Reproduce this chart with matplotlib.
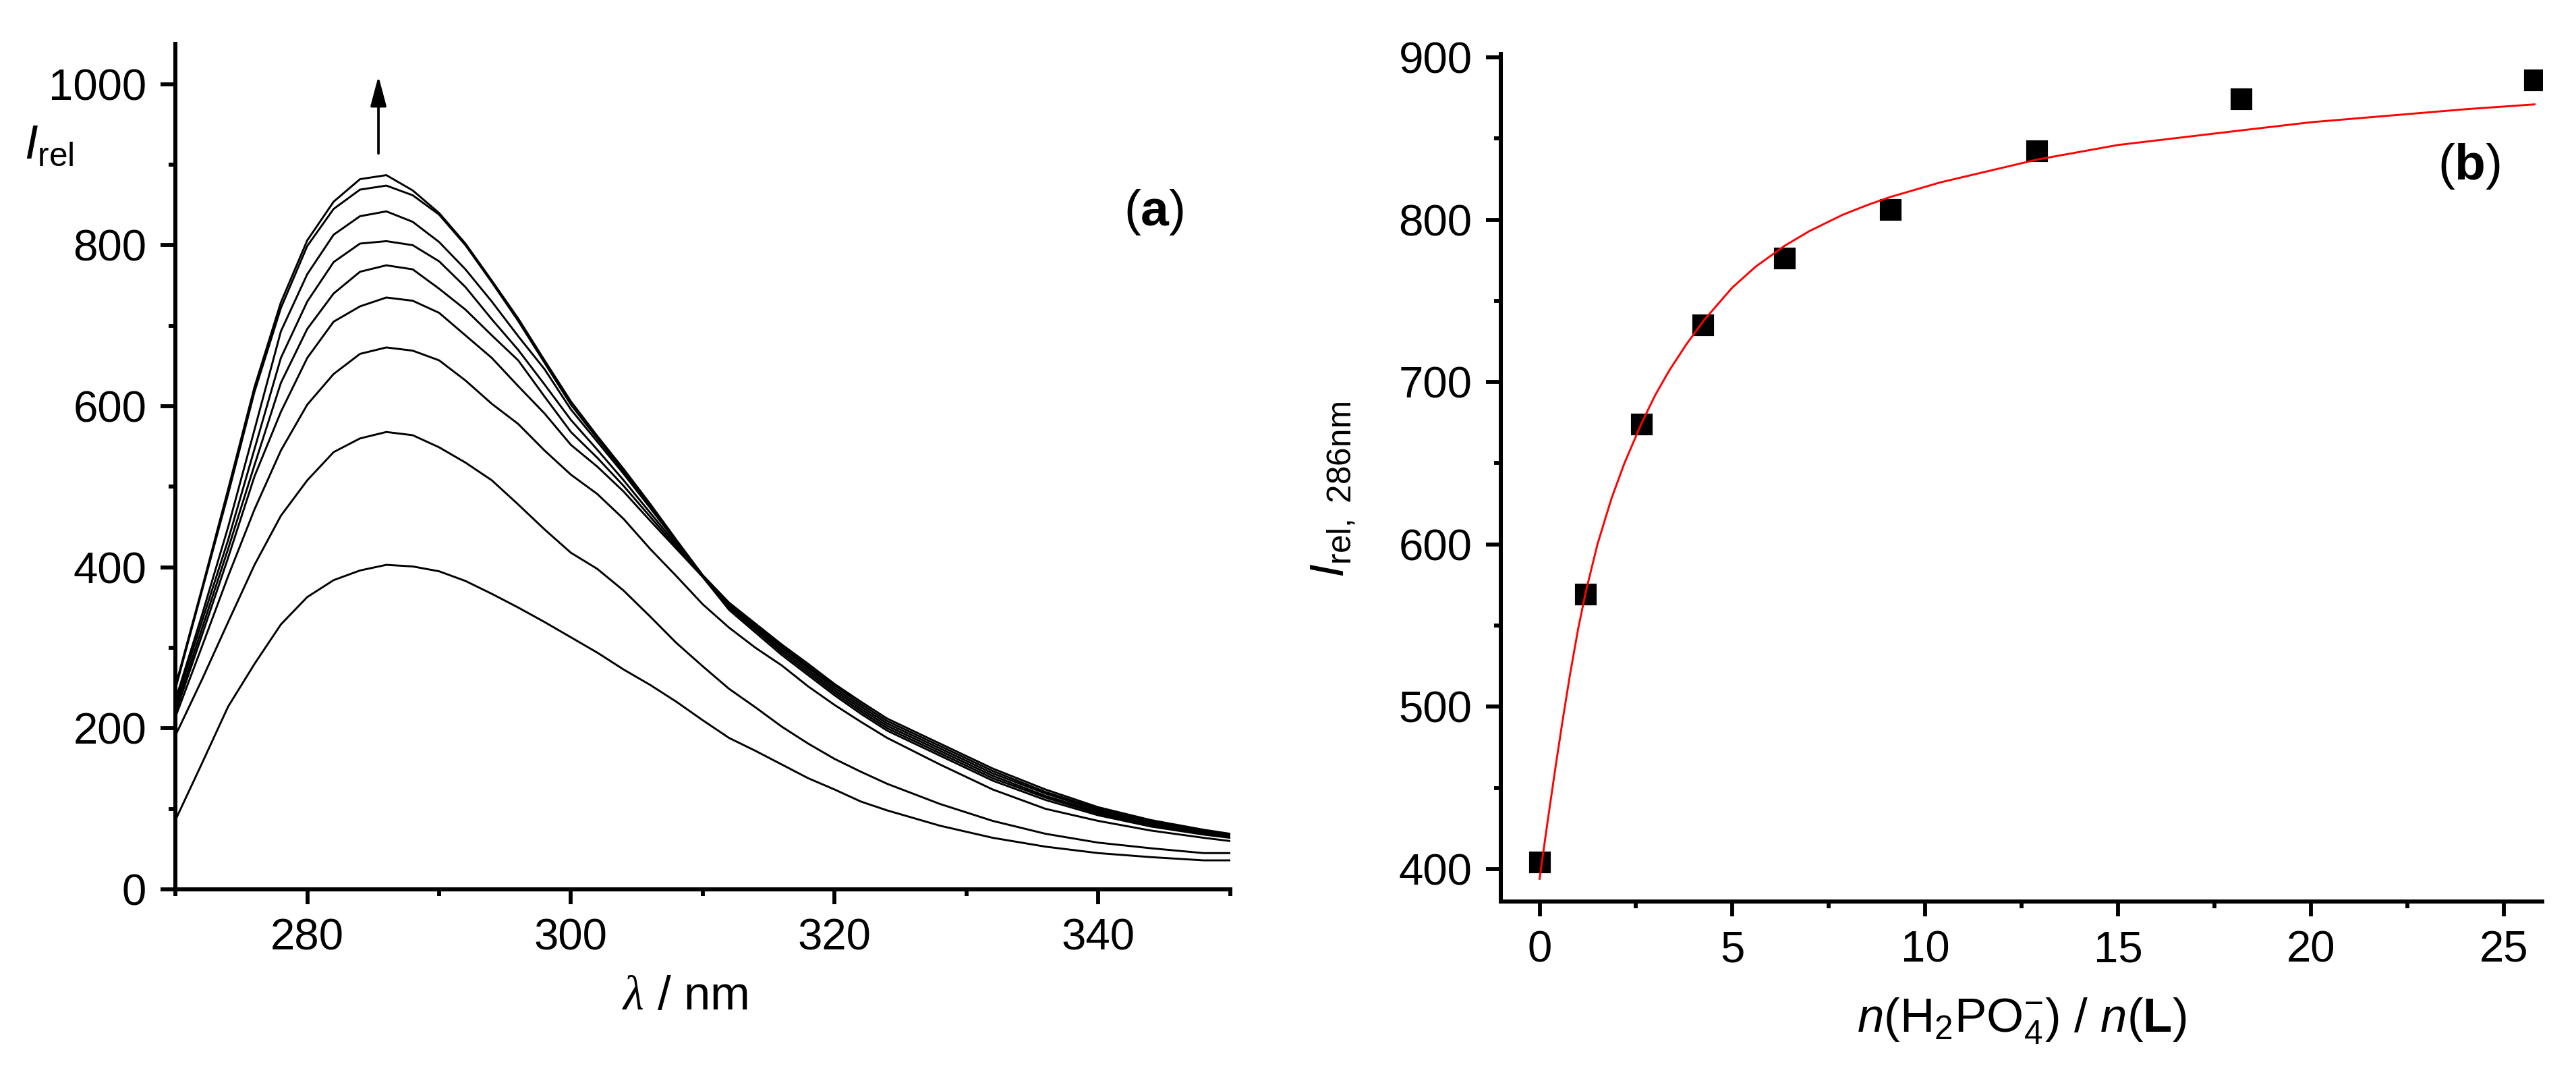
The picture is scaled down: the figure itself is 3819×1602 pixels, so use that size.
import matplotlib
matplotlib.use('Agg')
import matplotlib.pyplot as plt
from matplotlib.ticker import MultipleLocator

plt.rcParams['font.family'] = ['Liberation Sans', 'DejaVu Sans']
plt.rcParams['mathtext.fontset'] = 'custom'
plt.rcParams['mathtext.rm'] = 'Liberation Sans'
plt.rcParams['mathtext.it'] = 'Liberation Sans:italic'
plt.rcParams['mathtext.bf'] = 'Liberation Sans:bold'
plt.rcParams['mathtext.cal'] = 'Liberation Serif:italic'

# (a) emission spectra
wavelength = [270, 272, 274, 276, 278, 280, 282, 284, 286, 288, 290, 292, 294, 296, 298, 300,
              302, 304, 306, 308, 310, 312, 314, 316, 318, 320, 322, 324,
              328, 332, 336, 340, 344, 348, 350]
spec1 = [86, 156, 227, 280, 329, 363, 384, 396, 403, 401, 395, 383, 367, 350, 332, 313,
         294, 273, 254, 233, 210, 188, 172, 155, 138, 124, 109, 98, 79, 64, 53, 45, 40, 36, 36]
spec2 = [191, 260, 332, 403, 464, 508, 543, 560, 568, 564, 549, 530, 508, 478, 447, 418,
         398, 371, 339, 306, 277, 249, 226, 202, 181, 162, 146, 131, 106, 85, 69, 58, 51, 45, 45]
spec3 = [214, 301, 389, 472, 545, 602, 640, 665, 673, 669, 657, 632, 603, 578, 545, 515,
         491, 460, 423, 389, 354, 325, 300, 278, 252, 229, 208, 188, 155, 124, 100, 85, 73, 64, 60]
spec4 = [219, 315, 412, 513, 593, 660, 705, 724, 735, 731, 716, 688, 660, 625, 591, 552,
         525, 494, 458, 423, 388, 347, 319, 291, 266, 241, 218, 197, 166, 135, 111, 92, 78, 68, 64]
spec5 = [224, 323, 423, 527, 629, 696, 740, 767, 775, 770, 746, 720, 688, 657, 612, 568,
         536, 501, 463, 425, 388, 349, 322, 294, 269, 244, 221, 200, 169, 138, 114, 94, 80, 69, 65]
spec6 = [230, 332, 434, 547, 660, 730, 779, 802, 805, 800, 780, 748, 708, 670, 627, 583,
         546, 508, 468, 428, 389, 351, 324, 297, 272, 247, 224, 203, 172, 141, 116, 96, 81, 70, 66]
spec7 = [235, 340, 450, 571, 693, 764, 813, 836, 842, 829, 804, 770, 730, 687, 646, 596,
         556, 516, 474, 431, 389, 353, 326, 300, 275, 250, 227, 206, 175, 144, 119, 98, 83, 72, 67]
spec8 = [249, 370, 491, 618, 722, 799, 845, 869, 874, 862, 838, 800, 754, 706, 654, 602,
         560, 519, 477, 433, 390, 355, 328, 302, 277, 253, 230, 209, 178, 147, 121, 100, 84, 73, 68]
spec9 = [252, 373, 497, 624, 729, 806, 854, 882, 887, 868, 840, 802, 756, 709, 657, 606,
         563, 522, 479, 434, 390, 356, 330, 304, 280, 255, 233, 212, 181, 150, 124, 102, 86, 74, 69]
spectra = [spec1, spec2, spec3, spec4, spec5, spec6, spec7, spec8, spec9]

# (b) titration points and fitted curve
ratio = [0, 1.2, 2.65, 4.25, 6.35, 9.1, 12.9, 18.2, 25.8]
i286 = [404, 569, 674, 735, 776, 806, 842, 874, 886]
fit_x = [0, 0.2, 0.42, 0.6, 0.79, 1.0, 1.2, 1.5, 1.86, 2.2, 2.65, 3.0, 3.36, 3.8, 4.26,
         4.99, 5.6, 6.36, 7.0, 7.86, 8.5, 9.1, 10.4, 12.9, 15.0, 18.2, 20.0, 22.0, 24.0, 25.8]
fit_y = [394, 428, 464, 492, 520, 548, 571, 600, 628, 650, 675, 692, 707, 723, 738,
         758, 771, 784, 793, 803, 809, 814, 823, 837, 846, 855, 860, 864, 868, 871]


def style_axes(ax):
  for side in ['top', 'right']:
    ax.spines[side].set_visible(False)
  for side in ['left', 'bottom']:
    ax.spines[side].set_linewidth(1.45)
  ax.tick_params(which='both', direction='out', width=1.4, labelsize=15.7, pad=5)
  ax.tick_params(which='major', length=5.3)
  ax.tick_params(which='minor', length=2.5)


fig = plt.figure(figsize=(12.73, 5.34), dpi=300)

# panel (a)
ax1 = fig.add_axes([0.0681, 0.1773, 0.4094, 0.7821])
for spec in spectra:
  ax1.plot(wavelength, spec, color='black', lw=0.7)
ax1.set_xlim(270, 350)
ax1.set_ylim(0, 1050)
ax1.xaxis.set_minor_locator(MultipleLocator(10))
ax1.set_xticks([280, 300, 320, 340])
ax1.yaxis.set_major_locator(MultipleLocator(200))
ax1.yaxis.set_minor_locator(MultipleLocator(100))
style_axes(ax1)
ax1.set_xlabel(r'$\mathcal{λ}$ / nm', fontsize=17)
ax1.xaxis.set_label_coords(0.4835, -0.101)
fig.text(0.0094, 0.8533, r'$I_{\rm rel}$', fontsize=17, ha='left', va='baseline')
ax1.text(344.2, 841, r'($\mathbf{a}$)', fontsize=18, ha='center', va='center')
ax1.annotate('', xy=(285.4, 1010), xytext=(285.4, 914),
             arrowprops=dict(arrowstyle='-|>,head_length=0.45,head_width=0.12',
                             mutation_scale=20, color='black', lw=0.9,
                             shrinkA=0, shrinkB=0))

# panel (b)
ax2 = fig.add_axes([0.5827, 0.1660, 0.4042, 0.7840])
ax2.plot(ratio, i286, 's', color='black', markersize=6.5, zorder=2)
ax2.plot(fit_x, fit_y, color='red', lw=0.7, zorder=3)
ax2.set_xlim(-1, 26)
ax2.set_ylim(380, 902)
ax2.xaxis.set_major_locator(MultipleLocator(5))
ax2.xaxis.set_minor_locator(MultipleLocator(2.5))
ax2.yaxis.set_major_locator(MultipleLocator(100))
ax2.yaxis.set_minor_locator(MultipleLocator(50))
style_axes(ax2)
ax2.set_xlabel(r'$n$(H$_2$PO$_4^{-}$) / $n$($\mathbf{L}$)', fontsize=17)
ax2.xaxis.set_label_coords(0.5, -0.112)
ax2.set_ylabel(r'$I_{\rm rel,\ 286nm}$', fontsize=17)
ax2.yaxis.set_label_coords(-0.138, 0.486)
ax2.text(24.1, 833, r'($\mathbf{b}$)', fontsize=18, ha='center', va='center')

fig.savefig('out.png', dpi=300)
